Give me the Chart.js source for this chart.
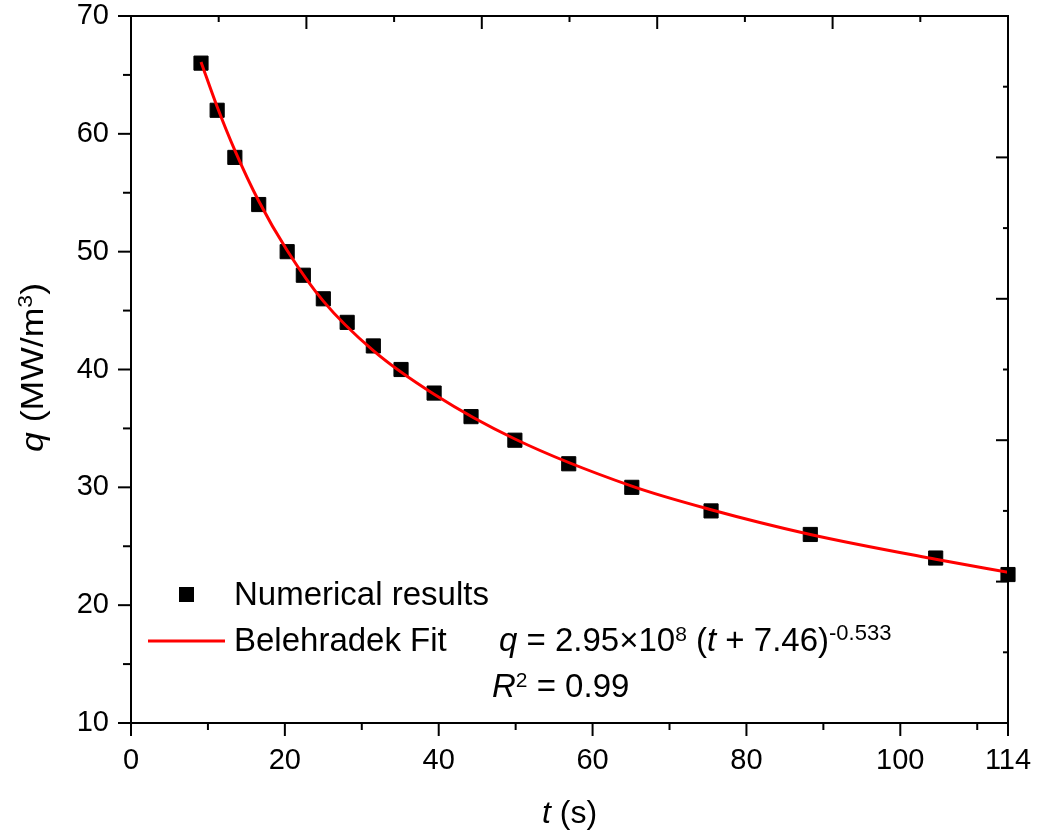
<!DOCTYPE html>
<html>
<head>
<meta charset="utf-8">
<script src="https://cdn.jsdelivr.net/npm/chart.js@4.4.1/dist/chart.umd.min.js"></script>
<style>
  html, body { margin: 0; padding: 0; background: #fff; }
  #chart { display: block; }
</style>
</head>
<body>
<canvas id="chart" width="1038" height="835"></canvas>
<script>
// Numerical results
const tValues = [9.1, 11.2, 13.5, 16.6, 20.3, 22.4, 25.0, 28.1, 31.5, 35.1, 39.4, 44.2, 49.9, 56.9, 65.1, 75.4, 88.3, 104.6, 114];
const qValues = [66, 62, 58, 54, 50, 48, 46, 44, 42, 40, 38, 36, 34, 32, 30, 28, 26, 24, 22.6];

// Belehradek fit curve
const fitT = [9.1, 11.2, 13.5, 16.6, 20.3, 25.0, 31.5, 39.4, 49.9, 65.1, 75.4, 88.3, 104.6, 114];
const fitQ = [66.1, 62.3, 58.6, 54.3, 50.1, 45.8, 41.6, 37.9, 34.1, 30.1, 28.1, 26.0, 23.9, 22.8];

// axis ticks
const xTickLabels = [0, 20, 40, 60, 80, 100, 114];
const xMinorTicks = [10, 30, 50, 70, 90, 110];
const yTickLabels = [10, 20, 30, 40, 50, 60, 70];
const yMinorTicks = [15, 25, 35, 45, 55, 65];
const topMajorTicks = [22.8, 45.6, 68.4, 91.2];
const topMinorTicks = [11.4, 34.2, 57, 79.8, 102.6];
const rightMajorTicks = [22, 34, 46, 58];
const rightMinorTicks = [16, 28, 40, 52, 64];

const FONT = "'Liberation Sans', Arial, sans-serif";

function fontStr(size, italic) {
    return (italic ? "italic " : "") + size + "px " + FONT;
}

// text pieces (italic / superscript) drawn one after another
function runsWidth(ctx, runs) {
    let w = 0;
    runs.forEach(r => {
        ctx.font = fontStr(r.sup ? r.supSize || 21 : r.size || 33, r.italic);
        w += ctx.measureText(r.text).width;
    });
    return w;
}

function drawRuns(ctx, x, y, runs) {
    runs.forEach(r => {
        ctx.font = fontStr(r.sup ? r.supSize || 21 : r.size || 33, r.italic);
        ctx.fillText(r.text, x, r.sup ? y - (r.raise || 10) : y);
        x += ctx.measureText(r.text).width;
    });
    return x;
}

// no automatic label margins, the plot box is set by layout padding
function noMargins(s) {
    s.paddingTop = 0;
    s.paddingBottom = 0;
    s.paddingLeft = 0;
    s.paddingRight = 0;
}

const decor = {
    id: "decor",
    afterDraw(chart) {
        const ctx = chart.ctx;
        const a = chart.chartArea;
        const x = chart.scales.x;
        const y = chart.scales.y;
        ctx.save();
        ctx.strokeStyle = "#000";
        ctx.lineWidth = 2;
        ctx.lineCap = "butt";
        ctx.strokeRect(a.left, a.top, a.right - a.left, a.bottom - a.top);

        function line(x1, y1, x2, y2) {
            ctx.beginPath();
            ctx.moveTo(x1, y1);
            ctx.lineTo(x2, y2);
            ctx.stroke();
        }
        xTickLabels.forEach(v => { const p = x.getPixelForValue(v); line(p, a.bottom, p, a.bottom + 13); });
        xMinorTicks.forEach(v => { const p = x.getPixelForValue(v); line(p, a.bottom, p, a.bottom + 7); });
        yTickLabels.forEach(v => { const p = y.getPixelForValue(v); line(a.left - 13, p, a.left, p); });
        yMinorTicks.forEach(v => { const p = y.getPixelForValue(v); line(a.left - 8, p, a.left, p); });
        topMajorTicks.forEach(v => { const p = x.getPixelForValue(v); line(p, a.top, p, a.top + 13); });
        topMinorTicks.forEach(v => { const p = x.getPixelForValue(v); line(p, a.top, p, a.top + 6); });
        rightMajorTicks.forEach(v => { const p = y.getPixelForValue(v); line(a.right - 12, p, a.right, p); });
        rightMinorTicks.forEach(v => { const p = y.getPixelForValue(v); line(a.right - 5, p, a.right, p); });

        ctx.fillStyle = "#000";
        ctx.textBaseline = "alphabetic";
        ctx.textAlign = "left";

        // legend
        const pts = chart.data.datasets[0];
        const fit = chart.data.datasets[1];
        ctx.fillStyle = pts.backgroundColor;
        ctx.fillRect(179, 587, 15, 15);
        ctx.strokeStyle = fit.borderColor;
        ctx.lineWidth = 3;
        line(148, 641, 225, 641);
        ctx.fillStyle = "#000";
        drawRuns(ctx, 234, 605, [{ text: pts.label }]);
        drawRuns(ctx, 234, 651, [{ text: fit.label }]);

        // fit equation
        drawRuns(ctx, 499, 651, [
            { text: "q", italic: true },
            { text: " = 2.95×10" },
            { text: "8", sup: true, supSize: 21 },
            { text: " (" },
            { text: "t", italic: true },
            { text: " + 7.46)" },
            { text: "-0.533", sup: true, supSize: 22, raise: 11 }
        ]);
        drawRuns(ctx, 492, 697, [
            { text: "R", italic: true },
            { text: "2", sup: true, supSize: 21 },
            { text: " = 0.99" }
        ]);

        // x axis title
        const xt = [{ text: "t", italic: true, size: 32 }, { text: " (s)", size: 32 }];
        const xw = runsWidth(ctx, xt);
        drawRuns(ctx, (a.left + a.right) / 2 - xw / 2, 823, xt);

        // y axis title (stretched along its length like the original)
        const yt = [
            { text: "q", italic: true, size: 31 },
            { text: " (MW/m", size: 31 },
            { text: "3", sup: true, supSize: 20, raise: 11 },
            { text: ")", size: 31 }
        ];
        const yw = runsWidth(ctx, yt);
        ctx.translate(43, 367.5);
        ctx.rotate(-Math.PI / 2);
        ctx.scale(169 / yw, 1);
        drawRuns(ctx, -yw / 2, 0, yt);
        ctx.restore();
    }
};

new Chart(document.getElementById("chart"), {
    type: "scatter",
    data: {
        datasets: [
            {
                label: "Numerical results",
                data: tValues.map((t, i) => ({ x: t, y: qValues[i] })),
                pointStyle: "rect",
                pointRadius: 10,
                pointHoverRadius: 10,
                backgroundColor: "#000",
                borderColor: "#000",
                borderWidth: 1,
                clip: false,
                order: 2
            },
            {
                label: "Belehradek Fit",
                type: "line",
                data: fitT.map((t, i) => ({ x: t, y: fitQ[i] })),
                borderColor: "#ff0000",
                backgroundColor: "#ff0000",
                borderWidth: 3,
                pointRadius: 0,
                fill: false,
                cubicInterpolationMode: "monotone",
                order: 1
            }
        ]
    },
    options: {
        responsive: false,
        animation: false,
        events: [],
        layout: { padding: { left: 0, right: 30, top: 16, bottom: 0 } },
        plugins: {
            legend: { display: false },
            tooltip: { enabled: false }
        },
        scales: {
            x: {
                type: "linear",
                min: 0,
                max: 114,
                grid: { display: false, drawTicks: false },
                border: { display: false },
                afterBuildTicks: s => { s.ticks = xTickLabels.map(v => ({ value: v })); },
                afterFit: s => { s.height = 112; noMargins(s); },
                ticks: {
                    color: "#000",
                    padding: 23,
                    maxRotation: 0,
                    autoSkip: false,
                    font: { family: FONT, size: 29, lineHeight: 1 }
                }
            },
            y: {
                type: "linear",
                min: 10,
                max: 70,
                grid: { display: false, drawTicks: false },
                border: { display: false },
                afterBuildTicks: s => { s.ticks = yTickLabels.map(v => ({ value: v })); },
                afterFit: s => { s.width = 131; noMargins(s); },
                ticks: {
                    color: "#000",
                    padding: 22,
                    font: { family: FONT, size: 29, lineHeight: 1 }
                }
            }
        }
    },
    plugins: [decor]
});
</script>
</body>
</html>
